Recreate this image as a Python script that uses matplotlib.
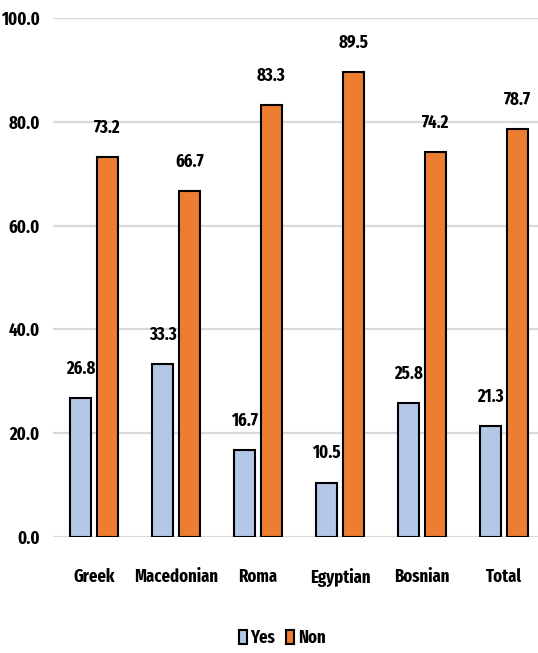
import matplotlib
matplotlib.use("Agg")
import matplotlib.pyplot as plt
import numpy as np

categories = ["Greek", "Macedonian", "Roma", "Egyptian", "Bosnian", "Total"]
yes_values = [26.8, 33.3, 16.7, 10.5, 25.8, 21.3]
non_values = [73.2, 66.7, 83.3, 89.5, 74.2, 78.7]
y_ticks = [0, 20, 40, 60, 80, 100]

plt.rcParams["font.family"] = ["Fira Sans Extra Condensed", "DejaVu Sans"]
plt.rcParams["font.weight"] = "bold"
FS = 13

fig = plt.figure(figsize=(5.38, 6.53), dpi=100)
ax = fig.add_axes([53 / 538, 116 / 653, 492 / 538, 519 / 653])

x = np.arange(len(categories))
w = 0.256
off = 0.162
yes_color = "#B4C7E7"
non_color = "#ED7D31"

b1 = ax.bar(x - off, yes_values, w, color=yes_color, edgecolor="black",
            linewidth=1.5, label="Yes", zorder=3)
b2 = ax.bar(x + off, non_values, w, color=non_color, edgecolor="black",
            linewidth=1.5, label="Non", zorder=3)

for bars, vals in ((b1, yes_values), (b2, non_values)):
    for rect, v in zip(bars, vals):
        ax.annotate(f"{v:.1f}", (rect.get_x() + rect.get_width() / 2, v),
                    xytext=(0, 21), textcoords="offset points",
                    ha="center", va="center", fontsize=FS, fontweight="bold")

ax.set_xlim(-0.5, len(categories) - 0.5)
ax.set_ylim(0, 100)
ax.set_yticks(y_ticks)
ax.set_yticklabels([f"{t:.1f}" for t in y_ticks], fontsize=FS, fontweight="bold")
ax.set_xticks(x)
ax.set_xticklabels(categories, fontsize=FS, fontweight="bold")
ax.tick_params(axis="both", length=0)
ax.tick_params(axis="x", pad=22)
ax.tick_params(axis="y", pad=9.5)
ax.grid(axis="y", color="#d9d9d9", linewidth=1.6, zorder=0)
for s in ax.spines.values():
    s.set_visible(False)

fig.legend(handles=[b1, b2], labels=["Yes", "Non"], loc="center",
           bbox_to_anchor=(282 / 538, 1 - 638 / 653), ncol=2, frameon=False,
           fontsize=FS, handlelength=0.45, handleheight=0.85, handletextpad=0.2,
           columnspacing=0.6)

fig.savefig("out.png", dpi=100)
